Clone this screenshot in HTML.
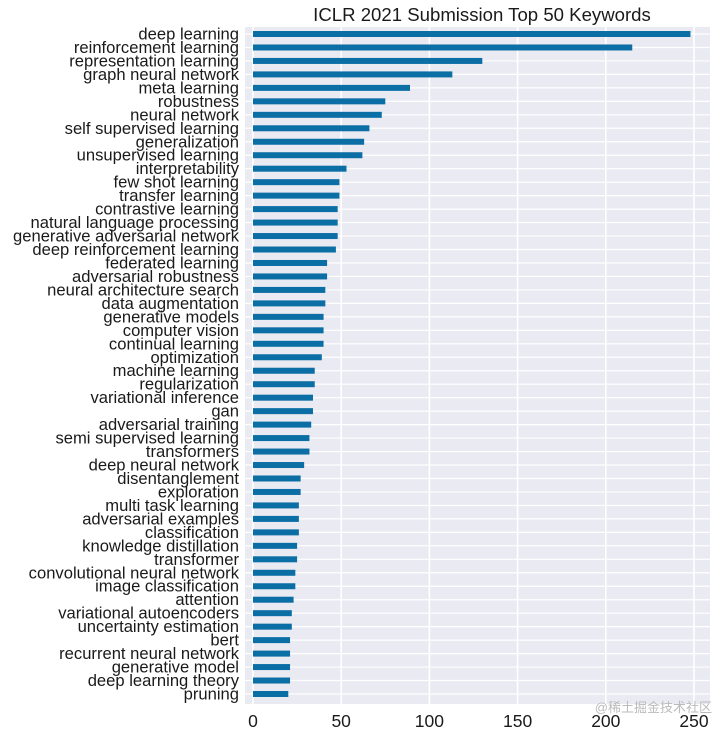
<!DOCTYPE html>
<html><head><meta charset="utf-8"><style>
body{margin:0;background:#fff;width:720px;height:737px;overflow:hidden}
svg text{font-family:"Liberation Sans","Noto Sans CJK SC",sans-serif;fill:#1a1a1a}
</style></head><body>
<svg id="chart" width="720" height="737"></svg>
<script>
const categories=["deep learning","reinforcement learning","representation learning","graph neural network","meta learning","robustness","neural network","self supervised learning","generalization","unsupervised learning","interpretability","few shot learning","transfer learning","contrastive learning","natural language processing","generative adversarial network","deep reinforcement learning","federated learning","adversarial robustness","neural architecture search","data augmentation","generative models","computer vision","continual learning","optimization","machine learning","regularization","variational inference","gan","adversarial training","semi supervised learning","transformers","deep neural network","disentanglement","exploration","multi task learning","adversarial examples","classification","knowledge distillation","transformer","convolutional neural network","image classification","attention","variational autoencoders","uncertainty estimation","bert","recurrent neural network","generative model","deep learning theory","pruning"];
const counts=[248,215,130,113,89,75,73,66,63,62,53,49,49,48,48,48,47,42,42,41,41,40,40,40,39,35,35,34,34,33,32,32,29,27,27,26,26,26,25,25,24,24,23,22,22,21,21,21,21,20];
const xTicks=[0,50,100,150,200,250];
const NS="http://www.w3.org/2000/svg";
const svg=document.getElementById('chart');
const L=245,R=710,T=27,B=704,x0=253,pxPer=1.764;
function xs(v){return x0+v*pxPer;}
const y0=34,step=(694-34)/49;
function ys(i){return y0+i*step;}
function mk(tag,attrs){const e=document.createElementNS(NS,tag);for(const k in attrs)e.setAttribute(k,attrs[k]);svg.appendChild(e);return e;}
const bg=mk('rect',{x:L,y:T,width:R-L,height:B-T,fill:'#eaeaf2'});


xTicks.forEach(t=>{
  const g=mk('line',{x1:xs(t),x2:xs(t),y1:T,y2:B,stroke:'#fff','stroke-width':1.6});
  
  
  const tx=mk('text',{x:xs(t),y:727,'text-anchor':'middle','font-size':17.5});
  tx.textContent=t;
  
  
});
categories.forEach((c,i)=>{
  const g=mk('line',{x1:L,x2:R,y1:ys(i),y2:ys(i),stroke:'#fff','stroke-width':1.2});
  
  
});
categories.forEach((c,i)=>{
  const b=mk('rect',{x:x0,y:ys(i)-3,width:xs(counts[i])-x0,height:6,fill:'#0b6ea5'});
  
  
  const t=mk('text',{x:239,y:ys(i)+5.5,'text-anchor':'end','font-size':16.6});
  t.textContent=c;
  
  
});
const title=mk('text',{x:482,y:21,'text-anchor':'middle','font-size':18.6});
title.textContent='ICLR 2021 Submission Top 50 Keywords';


const wm=mk('text',{x:712,y:712,'text-anchor':'end','font-size':13,style:'fill:#bbb'});
wm.textContent='@稀土掘金技术社区';


</script>
</body></html>
